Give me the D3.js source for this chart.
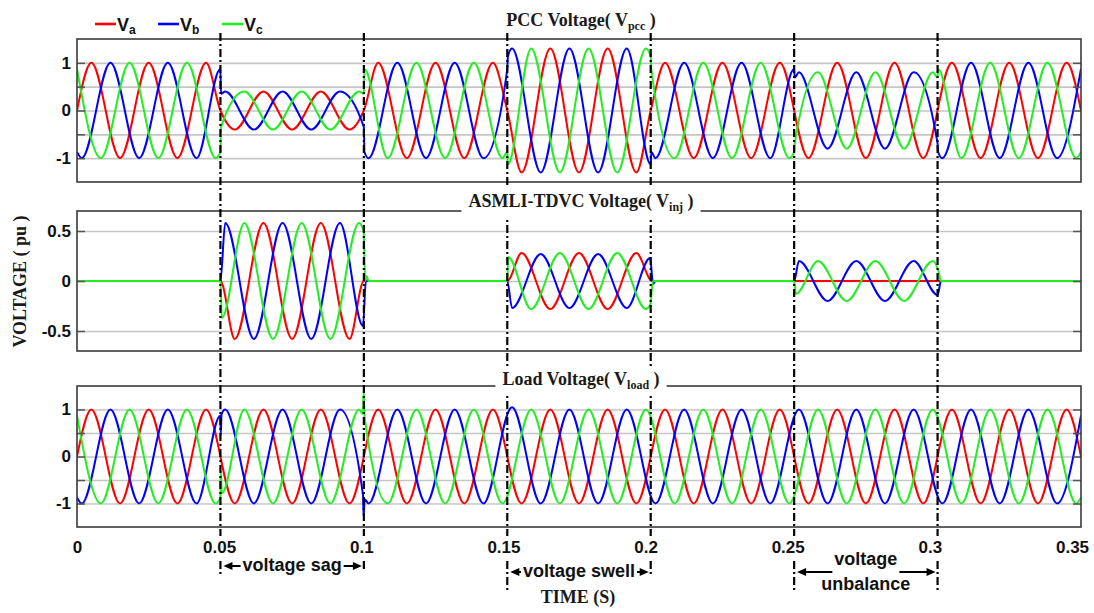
<!DOCTYPE html>
<html>
<head>
<meta charset="utf-8">
<script src="https://cdn.jsdelivr.net/npm/d3@7"></script>
<style>
  body { margin: 0; background: #fff; }
  svg { display: block; }
  .sans { font-family: "Liberation Sans", Arial, sans-serif; font-weight: bold; }
  .serif { font-family: "Liberation Serif", "Times New Roman", serif; font-weight: bold; }
</style>
</head>
<body>
<svg id="chart" width="1094" height="613"></svg>
<script>
const timeTicks = [0, 0.05, 0.1, 0.15, 0.2, 0.25, 0.3, 0.35]
const eventTimes = [0.05, 0.1, 0.15, 0.2, 0.25, 0.3]
const phaseNames = ['a', 'b', 'c']
const phaseColors = ['#ff0000', '#0000ff', '#22ee22']

// time of the first extremum of each phase, then one extremum every half cycle (50 Hz)
const firstPeak = [0.005, 0.001667, 0.008333]
const halfCycle = 0.01

// extremum values (one per half cycle)
const pccA = [1, -1, 1, -1, 1, -0.4, 0.4, -0.4, 0.4, -0.4, 1, -1, 1, -1, 1, -1.3, 1.3, -1.3, 1.3, -1.3, 1, -1, 1, -1, 1, -1, 1, -1, 1, -1, 1, -1, 1, -1, 1]
const pccB = [-1, 1, -1, 1, -1, 0.4, -0.4, 0.4, -0.4, 0.4, -1, 1, -1, 1, -1, 1.3, -1.3, 1.3, -1.3, 1.3, -1, 1, -1, 1, -1, 0.8, -0.8, 0.8, -0.8, 0.8, -1, 1, -1, 1, -1]
const pccC = [-1, 1, -1, 1, -1, 0.4, -0.4, 0.4, -0.4, 0.4, -1, 1, -1, 1, -1, 1.3, -1.3, 1.3, -1.3, 1.3, -1, 1, -1, 1, -1, 0.8, -0.8, 0.8, -0.8, 0.8, -1, 1, -1, 1, -1]

const injA = [0, 0, 0, 0, 0, -0.58, 0.58, -0.58, 0.58, -0.58, 0, 0, 0, 0, 0, 0.28, -0.28, 0.28, -0.28, 0.28, 0, 0, 0, 0, 0, 0, 0, 0, 0, 0, 0, 0, 0, 0, 0]
const injB = [0, 0, 0, 0, 0, 0.58, -0.58, 0.58, -0.58, 0.58, 0, 0, 0, 0, 0, -0.27, 0.27, -0.27, 0.27, -0.27, 0, 0, 0, 0, 0, 0.2, -0.2, 0.2, -0.2, 0.2, 0, 0, 0, 0, 0]
const injC = [0, 0, 0, 0, 0, 0.58, -0.58, 0.58, -0.58, 0.58, 0, 0, 0, 0, 0, -0.28, 0.28, -0.28, 0.28, -0.28, 0, 0, 0, 0, 0, 0.2, -0.2, 0.2, -0.2, 0.2, 0, 0, 0, 0, 0]

const loadA = [1, -1, 1, -1, 1, -1, 1, -1, 1, -1, 1, -1, 1, -1, 1, -1, 1, -1, 1, -1, 1, -1, 1, -1, 1, -1, 1, -1, 1, -1, 1, -1, 1, -1, 1]
const loadB = [-1, 1, -1, 1, -1, 1, -1, 1, -1, 1, -1, 1, -1, 1, -1, 1.05, -1, 1, -1, 1, -1, 1, -1, 1, -1, 1, -1, 1, -1, 1, -1, 1, -1, 1, -1]
const loadC = [-1, 1, -1, 1, -1, 1, -1, 1, -1, 1, -1, 1, -1, 1, -1, 1, -1, 1, -1, 1, -1, 1, -1, 1, -1, 1, -1, 1, -1, 1, -1, 1, -1, 1, -1]

// extra [time, value] knots: ends, switching instants and transients
const pccEdgeA = [[0, 0], [0.05, 0], [0.1, 0], [0.15, 0], [0.2, 0], [0.35, 0]]
const pccEdgeB = [[0, -0.87], [0.05, 0.87], [0.0502, 0.35], [0.1, -0.35], [0.1002, -0.87], [0.15, 0.87], [0.1502, 1.13], [0.2, -1.13], [0.2002, -0.87], [0.25, 0.87], [0.2502, 0.69], [0.3, -0.69], [0.3002, -0.87], [0.35, 0.87]]
const pccEdgeC = [[0, 0.87], [0.05, -0.87], [0.0502, -0.35], [0.1, 0.35], [0.1002, 0.87], [0.15, -0.87], [0.1502, -1.13], [0.2, 1.13], [0.2002, 0.87], [0.25, -0.87], [0.2502, -0.69], [0.3, 0.69], [0.3002, 0.87], [0.35, -0.87]]

const injEdgeA = [[0, 0], [0.05, 0], [0.1, 0], [0.15, 0], [0.2005, 0], [0.35, 0]]
const injEdgeB = [[0, 0], [0.05, 0], [0.0997, -0.45], [0.1007, 0], [0.15, 0], [0.1998, 0.23], [0.2008, -0.03], [0.202, 0], [0.25, 0], [0.3, -0.14], [0.3012, 0], [0.35, 0]]
const injEdgeC = [[0, 0], [0.05, 0], [0.0505, -0.37], [0.0999, 0.5], [0.1005, 0], [0.101, 0.05], [0.1016, 0], [0.15, 0], [0.1503, 0.24], [0.1998, -0.24], [0.2008, 0], [0.25, 0], [0.2506, -0.13], [0.3003, 0.1], [0.3012, 0], [0.35, 0]]

const loadEdgeA = [[0, 0], [0.35, 0]]
const loadEdgeB = [[0, -0.87], [0.05, 0.87], [0.0501, 0.45], [0.0504, 0.9], [0.0997, -0.82], [0.0999, -1.27], [0.1003, -0.91], [0.35, 0.87]]
const loadEdgeC = [[0, 0.87], [0.05, -0.87], [0.0501, -0.3], [0.0505, -0.78], [0.0997, 0.91], [0.0999, 1.38], [0.1003, 0.82], [0.35, -0.87]]

const annotations = [
  { from: 0.05, to: 0.1, lines: ['voltage sag'] },
  { from: 0.15, to: 0.2, lines: ['voltage swell'] },
  { from: 0.25, to: 0.3, lines: ['voltage', 'unbalance'] }
]

// layout
const left = 77
const right = 1081
const labelRight = 1072   // the time labels sit a little left of the plot's right edge
const guideTop = 33
const guideBottom = [576, 571, 592, 576, 592, 592]
const arrowY = [566, 572, 572]

const panels = [
  { top: 39, bottom: 182, domain: [-1.5, 1.5], grid: [-1, -0.5, 0, 0.5, 1], labels: [-1, 0, 1],
    title: ['PCC Voltage( V', 'pcc', ' )'], titleY: 26, mask: false,
    series: [[pccA, pccEdgeA], [pccB, pccEdgeB], [pccC, pccEdgeC]] },
  { top: 211, bottom: 351, domain: [-0.7, 0.7], grid: [-0.5, 0, 0.5], labels: [-0.5, 0, 0.5],
    title: ['ASMLI-TDVC Voltage( V', 'inj', ' )'], titleY: 207, mask: true,
    series: [[injA, injEdgeA], [injB, injEdgeB], [injC, injEdgeC]] },
  { top: 386, bottom: 527, domain: [-1.5, 1.5], grid: [-1, -0.5, 0, 0.5, 1], labels: [-1, 0, 1],
    title: ['Load Voltage( V', 'load', ' )'], titleY: 385, mask: true,
    series: [[loadA, loadEdgeA], [loadB, loadEdgeB], [loadC, loadEdgeC]] }
]

const svg = d3.select('#chart')
svg.append('rect').attr('width', 1094).attr('height', 613).attr('fill', '#fff')

const x = d3.scaleLinear().domain([0, 0.35]).range([left, right])
const xLabel = d3.scaleLinear().domain([0, 0.35]).range([left, labelRight])

function knots(peaks, edges, k) {
  const pts = peaks.map((v, i) => [firstPeak[k] + i * halfCycle, v]).concat(edges)
  return pts.sort((p, q) => p[0] - q[0])
}

const panelLayer = svg.append('g')
const guideLayer = svg.append('g')
const titleLayer = svg.append('g')

panels.forEach((p, pi) => {
  const y = d3.scaleLinear().domain(p.domain).range([p.bottom, p.top])
  const g = panelLayer.append('g')

  // grid lines
  g.append('g')
    .attr('transform', `translate(${left},0)`)
    .call(d3.axisLeft(y).tickValues(p.grid).tickSize(-(right - left)).tickFormat(''))
    .call(a => a.select('.domain').remove())
    .call(a => a.selectAll('line').attr('stroke', '#c6c6c6').attr('stroke-width', 1.6))

  // signals
  g.append('clipPath').attr('id', 'clip' + pi)
    .append('rect')
    .attr('x', left).attr('y', p.top)
    .attr('width', right - left).attr('height', p.bottom - p.top)

  const line = d3.line()
    .x(d => x(d[0]))
    .y(d => y(d[1]))
    .curve(d3.curveMonotoneX)

  const sig = g.append('g').attr('clip-path', `url(#clip${pi})`)
  p.series.forEach(([peaks, edges], k) => {
    sig.append('path')
      .attr('d', line(knots(peaks, edges, k)))
      .attr('fill', 'none')
      .attr('stroke', phaseColors[k])
      .attr('stroke-width', 2)
      .attr('stroke-linejoin', 'round')
  })

  // inner tick marks, left and right
  g.append('g')
    .attr('transform', `translate(${left},0)`)
    .call(d3.axisLeft(y).tickValues(p.grid).tickSize(-8).tickFormat(''))
    .call(a => a.select('.domain').remove())
    .call(a => a.selectAll('line').attr('stroke', '#555').attr('stroke-width', 1.5))
  g.append('g')
    .attr('transform', `translate(${right},0)`)
    .call(d3.axisRight(y).tickValues(p.grid).tickSize(-8).tickFormat(''))
    .call(a => a.select('.domain').remove())
    .call(a => a.selectAll('line').attr('stroke', '#555').attr('stroke-width', 1.5))

  // frame
  g.append('rect')
    .attr('x', left).attr('y', p.top)
    .attr('width', right - left).attr('height', p.bottom - p.top)
    .attr('fill', 'none')
    .attr('stroke', '#3a3a3a')
    .attr('stroke-width', 1.6)

  // y tick labels
  g.append('g')
    .attr('transform', `translate(${left},0)`)
    .call(d3.axisLeft(y).tickValues(p.labels).tickSize(0).tickPadding(6).tickFormat(d => String(d)))
    .call(a => a.select('.domain').remove())
    .call(a => a.selectAll('text')
      .attr('class', 'sans')
      .attr('font-size', 17)
      .attr('fill', '#111'))

  // title
  const tg = titleLayer.append('g')
  const t = tg.append('text')
    .attr('class', 'serif')
    .attr('x', 581)
    .attr('y', p.titleY)
    .attr('text-anchor', 'middle')
    .attr('font-size', 18)
    .attr('fill', '#1a1a1a')
  t.append('tspan').text(p.title[0])
  t.append('tspan').attr('dy', 4).attr('font-size', 12).text(p.title[1])
  t.append('tspan').attr('dy', -4).text(p.title[2])
  if (p.mask) {
    const b = t.node().getBBox()
    tg.insert('rect', 'text')
      .attr('x', b.x - 7).attr('y', b.y - 3)
      .attr('width', b.width + 14).attr('height', b.height + 7)
      .attr('fill', '#fff')
  }
})

// dash-dot guides at the switching instants
guideLayer.selectAll('line')
  .data(eventTimes)
  .join('line')
  .attr('x1', d => x(d)).attr('x2', d => x(d))
  .attr('y1', guideTop)
  .attr('y2', (d, i) => guideBottom[i])
  .attr('stroke', '#000')
  .attr('stroke-width', 2.2)
  .attr('stroke-dasharray', '8,3,2,3')

// time labels under the last panel, on white so the guides break behind them
const lastPanel = panels[panels.length - 1]
const timeAxis = svg.append('g')
  .attr('transform', `translate(0,${lastPanel.bottom})`)
  .call(d3.axisBottom(xLabel).tickValues(timeTicks).tickSize(0).tickFormat(d => String(d)))
  .call(a => a.select('.domain').remove())
  .call(a => a.selectAll('text')
    .attr('class', 'sans')
    .attr('font-size', 17)
    .attr('fill', '#111')
    .attr('dy', null)
    .attr('y', 26))
timeAxis.selectAll('.tick').each(function () {
  const tick = d3.select(this)
  const b = tick.select('text').node().getBBox()
  tick.insert('rect', 'text')
    .attr('x', b.x - 2).attr('y', b.y - 2)
    .attr('width', b.width + 4).attr('height', b.height + 4)
    .attr('fill', '#fff')
})

// legend
const legendX = [95, 158, 222]
const legend = svg.append('g')
phaseNames.forEach((n, k) => {
  legend.append('line')
    .attr('x1', legendX[k]).attr('x2', legendX[k] + 21)
    .attr('y1', 24).attr('y2', 24)
    .attr('stroke', phaseColors[k])
    .attr('stroke-width', 2.6)
  const lt = legend.append('text')
    .attr('class', 'sans')
    .attr('x', legendX[k] + 22)
    .attr('y', 31)
    .attr('font-size', 18)
    .attr('fill', '#111')
  lt.append('tspan').text('V')
  lt.append('tspan').attr('dy', 3).attr('font-size', 12).text(n)
})

// axis titles
svg.append('text')
  .attr('class', 'serif')
  .attr('transform', 'translate(26,281.5) rotate(-90)')
  .attr('text-anchor', 'middle')
  .attr('font-size', 18)
  .attr('fill', '#1a1a1a')
  .text('VOLTAGE ( pu )')

svg.append('text')
  .attr('class', 'serif')
  .attr('x', 578)
  .attr('y', 603)
  .attr('text-anchor', 'middle')
  .attr('font-size', 18)
  .attr('fill', '#1a1a1a')
  .text('TIME (S)')

// event annotations with double arrows
function arrowHead(g, tip, yy, dir) {
  g.append('path')
    .attr('d', `M${tip},${yy} L${tip + dir * 9},${yy - 4} L${tip + dir * 9},${yy + 4} Z`)
    .attr('fill', '#000')
}

annotations.forEach((an, i) => {
  const g = svg.append('g')
  const x0 = x(an.from)
  const x1 = x(an.to)
  const cx = (x0 + x1) / 2
  const ay = arrowY[i]
  const texts = an.lines.map((s, j) => g.append('text')
    .attr('class', 'sans')
    .attr('x', cx)
    .attr('y', an.lines.length === 1 ? ay + 5 : (j === 0 ? ay - 7 : ay + 18))
    .attr('text-anchor', 'middle')
    .attr('font-size', 18)
    .attr('fill', '#111')
    .text(s))
  const w = texts[0].node().getComputedTextLength()
  const gapL = cx - w / 2 - 2
  const gapR = cx + w / 2 + 2
  const tipL = x0 + 3
  const tipR = x1 - 2
  g.append('line').attr('x1', tipL + 5).attr('x2', gapL).attr('y1', ay).attr('y2', ay)
    .attr('stroke', '#000').attr('stroke-width', 2)
  g.append('line').attr('x1', gapR).attr('x2', tipR - 5).attr('y1', ay).attr('y2', ay)
    .attr('stroke', '#000').attr('stroke-width', 2)
  arrowHead(g, tipL, ay, 1)
  arrowHead(g, tipR, ay, -1)
})
</script>
</body>
</html>
